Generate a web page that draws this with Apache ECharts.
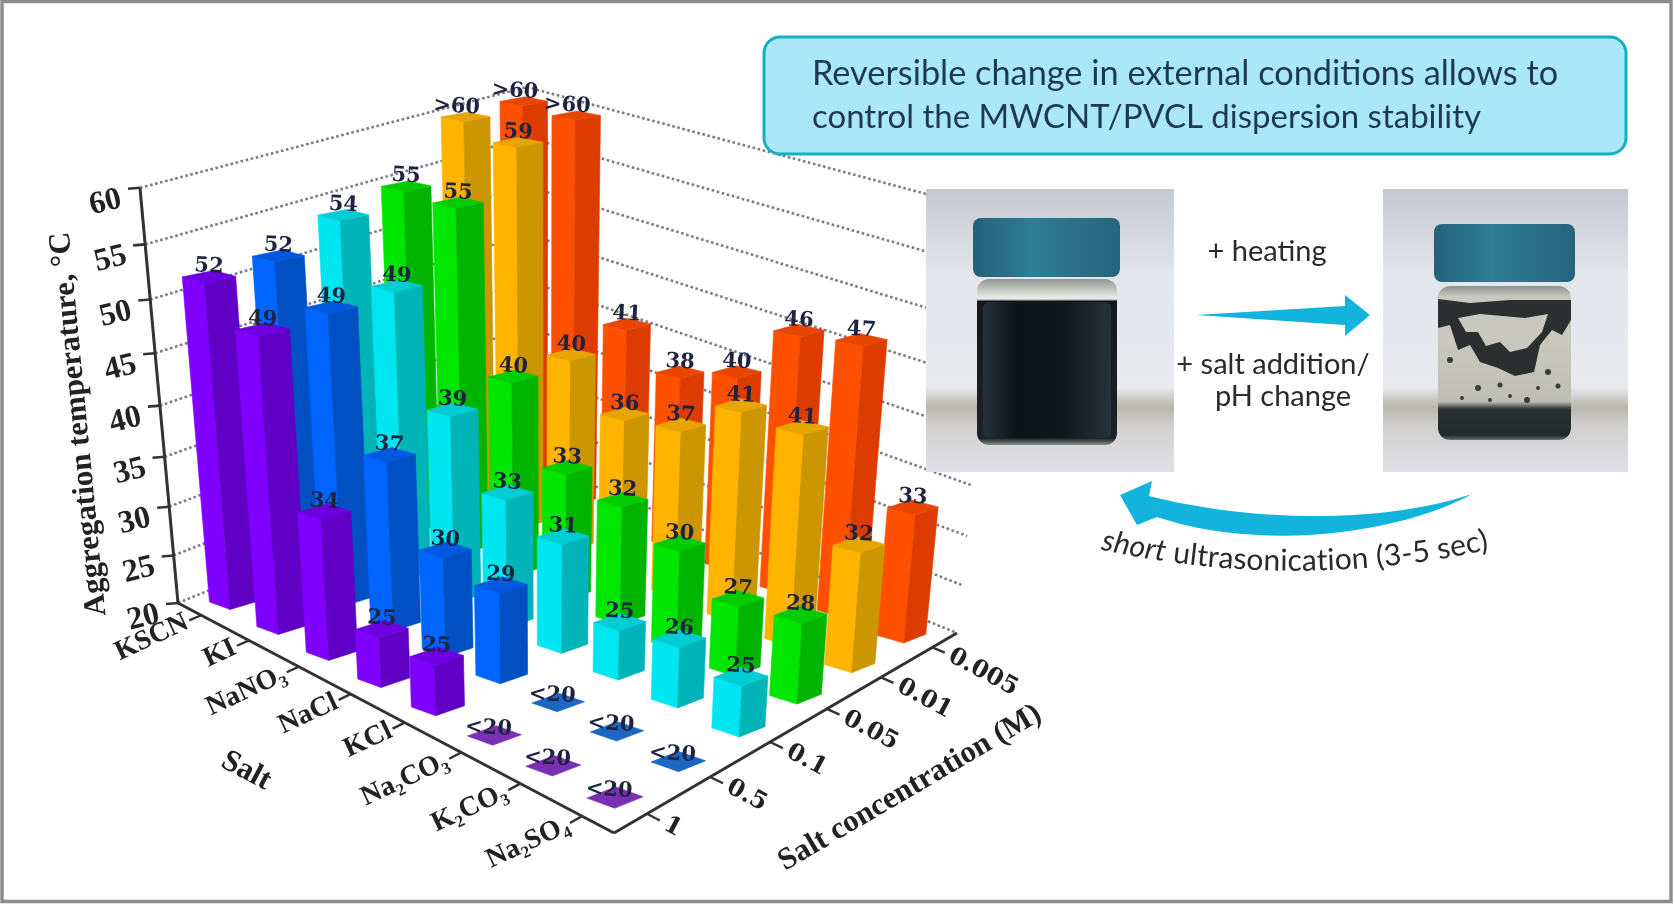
<!DOCTYPE html>
<html><head><meta charset="utf-8">
<style>html,body{margin:0;padding:0;background:#fff}#c{width:1675px;height:905px}</style>
<script src="https://cdn.jsdelivr.net/npm/echarts@6/dist/echarts.min.js"></script>
</head><body><div id="c"></div>
<script>
// ---------- data (values below 20 and the value 60 are the chart's "<20" and ">60" marks) ----------
const salts = ['KSCN','KI','NaNO₃','NaCl','KCl','Na₂CO₃','K₂CO₃','Na₂SO₄'];
const concs = ['1','0.5','0.1','0.05','0.01','0.005'];
const tempTicks = [20,25,30,35,40,45,50,55,60];
const conc1    = [52,49,34,25,25,19,19,19];
const conc05   = [52,49,37,30,29,19,19,19];
const conc01   = [54,49,39,33,31,25,26,25];
const conc005  = [55,55,40,33,32,30,27,28];
const conc001  = [60,59,40,36,37,41,41,32];
const conc0005 = [60,60,41,38,40,46,47,33];
const rows = [conc1,conc05,conc01,conc005,conc001,conc0005];

// ---------- style ----------
const faceLeft  = ['#7f00ff','#0064ff','#00e6f0','#00e600','#ffb400','#ff5000'];
const faceRight = ['#5f00c4','#0050c4','#00b4b8','#00b400','#cc9600','#dc3c00'];
const faceTop   = ['#6c00e0','#0058e0','#00ccd4','#00cc00','#e6a500','#e84600'];
const flatColor = ['#7a30b4','#1a68c4'];
const serif = '"DejaVu Serif"';
const serif2 = '"Liberation Serif"';
const labelInk = '#1f2340';

// ---------- perspective frame of the plot box (calibration of the box, not data) ----------
const box = {A:[178,603],B:[614,833],C:[957,633],D:[528,459],V:[544,4600],gamma:-0.0941};
const H = (()=>{const {A,B,C,D}=box;
  const dx1=B[0]-C[0],dx2=D[0]-C[0],sx=A[0]-B[0]+C[0]-D[0];
  const dy1=B[1]-C[1],dy2=D[1]-C[1],sy=A[1]-B[1]+C[1]-D[1];
  const det=dx1*dy2-dx2*dy1;
  const g=(sx*dy2-dx2*sy)/det,h=(dx1*sy-sx*dy1)/det;
  return {a:B[0]-A[0]+g*B[0],b:D[0]-A[0]+h*D[0],c:A[0],d:B[1]-A[1]+g*B[1],e:D[1]-A[1]+h*D[1],f:A[1],g,h};
})();
function proj(u,v,w){
  const k=box.gamma*w;
  const W=H.g*u+H.h*v+1+k;
  return [(H.a*u+H.b*v+H.c+k*box.V[0])/W,(H.d*u+H.e*v+H.f+k*box.V[1])/W];
}
const heightOf = t => (Math.max(t,tempTicks[0])-tempTicks[0])/(tempTicks[tempTicks.length-1]-tempTicks[0]);
const deg = d => d*Math.PI/180;
const floorUV = (api,cs,i,j)=>{const p=api.coord([i,j]);return [(p[0]-cs.x)/cs.width,1-(p[1]-cs.y)/cs.height];};

// ---------- bars ----------
const barFrac = 0.44, footSquash = 0.7;
function barItem(j){
  return function(params,api){
    const cs=params.coordSys, i=api.value(0), t=api.value(2);
    const [u,v]=floorUV(api,cs,i,api.value(1));
    const du=barFrac/salts.length/2, dv=barFrac/concs.length/2;
    const w=heightOf(t), children=[];
    const c=proj(u,v,w), c0=proj(u,v,0);
    const at=(uu,vv,ww,ctr)=>{const p=proj(uu,vv,ww);return [p[0],ctr[1]+(p[1]-ctr[1])*footSquash];};
    const tL=at(u-du,v-dv,w,c),tF=at(u+du,v-dv,w,c),tR=at(u+du,v+dv,w,c),tB=at(u-du,v+dv,w,c);
    const poly=(pts,fill)=>({type:'polygon',shape:{points:pts},style:{fill,stroke:fill,lineWidth:0.6}});
    const low=t<tempTicks[0], high=t>=tempTicks[tempTicks.length-1];
    if(low){
      children.push(poly([tL,tF,tR,tB],flatColor[j]));
    }else{
      const bL=at(u-du,v-dv,0,c0),bF=at(u+du,v-dv,0,c0),bR=at(u+du,v+dv,0,c0);
      children.push(poly([tL,tF,bF,bL],faceLeft[j]));
      children.push(poly([tF,tR,bR,bF],faceRight[j]));
      children.push(poly([tL,tF,tR,tB],faceTop[j]));
    }
    const text=low?'<20':high?'>60':String(t);
    children.push({type:'text',x:c[0]+(low?-6:high?-9:0),y:c[1]-(low?7:10),rotation:deg(-3),
      style:{text,fill:labelInk,font:'bold 21px '+serif,align:'center',verticalAlign:'middle'}});
    return {type:'group',children};
  };
}

// ---------- box: dotted walls, axes, ticks, tick labels ----------
function frameItem(params,api){
  const cs=params.coordSys, ch=[];
  const line=(p,q,stroke,lw,dash)=>ch.push({type:'line',shape:{x1:p[0],y1:p[1],x2:q[0],y2:q[1]},style:{stroke,lineWidth:lw,lineDash:dash||null}});
  tempTicks.forEach(t=>{
    const w=heightOf(t);
    line(proj(0,0,w),proj(0,1,w),'#7c7c88',2.6,[2.6,2.6]);
    line(proj(0,1,w),proj(1,1,w),'#7c7c88',2.6,[2.6,2.6]);
    const a=proj(0,0,w);
    ch.push({type:'line',shape:{x1:a[0],y1:a[1],x2:a[0]-12,y2:a[1]+1},style:{stroke:'#333',lineWidth:2.6}});
    ch.push({type:'text',x:a[0]-19,y:a[1]+11,rotation:deg(14),
      style:{text:String(t),fill:'#222',font:'bold 32px '+serif2,align:'right',verticalAlign:'middle'}});
  });
  line(proj(0,0,0),proj(0,0,1),'#333',3);
  line(proj(0,0,0),proj(1,0,0),'#333',3);
  line(proj(1,0,0),proj(1,1,0),'#333',3);
  salts.forEach((s,i)=>{
    const [u]=floorUV(api,cs,i,0);
    line(proj(u,0,0),proj(u,-0.03,0),'#333',2.4);
    const p=proj(u,-0.035,0);
    ch.push({type:'text',x:p[0],y:p[1],rotation:deg(25),
      style:{text:s,fill:'#222',font:'bold 28px '+serif2,align:'right',verticalAlign:'middle'}});
  });
  concs.forEach((s,j)=>{
    const [,v]=floorUV(api,cs,0,j);
    line(proj(1,v,0),proj(1.025,v,0),'#333',2.4);
    const p=proj(1.035,v,0);
    ch.push({type:'text',x:p[0],y:p[1],rotation:deg(-28),
      style:{text:s,fill:'#222',font:'bold 24px '+serif,align:'left',verticalAlign:'middle'}});
  });
  return {type:'group',children:ch};
}

// ---------- non-chart artwork: callout, jars, arrows ----------
const g=[];
const T=(text,x,y,font,fill,opt)=>g.push(Object.assign({type:'text',x,y,z:50,silent:true,
  style:{text,font,fill,align:(opt&&opt.align)||'center',verticalAlign:'middle'}},opt&&opt.rotation!=null?{rotation:opt.rotation}:{}));
const R=(x,y,w,h,fill,r,stroke,lw)=>g.push({type:'rect',z:40,silent:true,shape:{x,y,width:w,height:h,r:r||0},style:{fill:fill||'transparent',stroke:stroke||null,lineWidth:lw||0}});
const P=(pts,fill)=>g.push({type:'polygon',z:42,silent:true,shape:{points:pts},style:{fill}});
const vg=(stops)=>({type:'linear',x:0,y:0,x2:0,y2:1,colorStops:stops.map(s=>({offset:s[0],color:s[1]}))});
const hg=(stops)=>({type:'linear',x:0,y:0,x2:1,y2:0,colorStops:stops.map(s=>({offset:s[0],color:s[1]}))});
const cubic=(a,b,c,d,n)=>{const o=[];for(let i=0;i<=n;i++){const t=i/n,m=1-t;
  o.push([m*m*m*a[0]+3*m*m*t*b[0]+3*m*t*t*c[0]+t*t*t*d[0],m*m*m*a[1]+3*m*m*t*b[1]+3*m*t*t*c[1]+t*t*t*d[1]]);}return o;};

R(2,1.5,1669,900,null,0,'#8c8c8c',3.4);
// callout
R(764,37,862,117,'#a9e7f9',16,'#15aec4',3);
const sans='"Lato"';
T('Reversible change in external conditions allows to',812,74,'34.3px '+sans,'#1d3a4e',{align:'left'});
T('control the MWCNT/PVCL dispersion stability',812,117,'33px '+sans,'#1d3a4e',{align:'left'});
// photos
const photoBg=[[0,'#c6c8d0'],[0.3,'#e2e6ea'],[0.7,'#e8eaee'],[0.77,'#b9b6ae'],[0.84,'#d2d1d0'],[1,'#e0e0e6']];
R(926,189,248,283,vg(photoBg));
R(1383,189,245,283,vg(photoBg));
// left jar
R(977,279,140,166,vg([[0,'#8f9694'],[0.08,'#cfd3ce'],[0.12,'#eef0ea'],[0.135,'#11181c'],[0.96,'#1b2428'],[1,'#8c8f8c']]),12);
R(983,302,128,136,hg([[0,'#26323a'],[0.25,'#0d1418'],[0.6,'#0f161a'],[1,'#263238']]),6);
R(973,218,147,59,hg([[0,'#23607a'],[0.4,'#2f7d96'],[1,'#27637c']]),8);
// right jar
R(1438,286,133,154,vg([[0,'#8d918e'],[0.07,'#c8c8c2'],[0.35,'#c9c8bd'],[0.75,'#bfbeb2'],[0.8,'#2b3032'],[0.97,'#23292c'],[1,'#6e7070']]),12);
R(1434,224,141,58,hg([[0,'#24607a'],[0.4,'#2f7d96'],[1,'#27637c']]),8);
P([[1438,299],[1470,303],[1510,300],[1571,300],[1571,320],[1562,335],[1552,330],[1540,345],[1534,372],[1515,376],[1498,368],[1480,362],[1470,345],[1458,350],[1450,325],[1438,328]],'#2b2f30');
P([[1458,318],[1480,314],[1525,318],[1548,314],[1542,332],[1527,348],[1510,352],[1500,342],[1486,346],[1478,332],[1466,332]],'#c9c8bf');
const flecks=[[1450,360,3],[1478,388,3],[1500,385,2.5],[1527,400,3],[1548,372,3],[1558,386,2.5],[1490,400,2],[1462,398,2],[1538,388,2],[1510,396,2]];
flecks.forEach(f=>g.push({type:'circle',z:43,silent:true,shape:{cx:f[0],cy:f[1],r:f[2]},style:{fill:'#3a3d3d'}}));
// arrows
const arrowBlue='#12b3dc';
P([[1196,315],[1345,306],[1345,295],[1370,315],[1345,336],[1345,325]],arrowBlue);
P([...cubic([1472,494],[1400,534],[1260,552],[1157,517],24),[1137,525],[1120,495],[1152,481],[1149,496],...cubic([1149,496],[1260,524],[1390,522],[1472,494],24)],arrowBlue);
// text by the arrows
T('+ heating',1267,252,'29px '+sans,'#2a2a2a');
T('+ salt addition/',1273,365,'29px '+sans,'#2a2a2a');
T('pH change',1283,397,'29px '+sans,'#2a2a2a');
// curved caption, one glyph at a time along a circle
(function(){
  const R0=893,cx=1295,cy=561-R0,font='30px '+sans,italic='italic 30px '+sans;
  const s='short ultrasonication (3-5 sec)';
  const m=document.createElement('canvas').getContext('2d');
  const wd=[...s].map((c,i)=>{m.font=i<5?italic:font;return m.measureText(c).width;});
  const total=wd.reduce((a,b)=>a+b,0);
  let d=-total/2;
  [...s].forEach((c,i)=>{
    const a=(d+wd[i]/2)/R0;
    T(c,cx+R0*Math.sin(a),cy+R0*Math.cos(a),i<5?italic:font,'#2a2a2a',{rotation:a});
    d+=wd[i];
  });
})();
// axis titles
const titleFont='bold 31px '+serif2;
T('Aggregation temperature, °C',79,424,titleFont,'#222',{rotation:deg(95.5)});
T('Salt',246,771,titleFont,'#222',{rotation:deg(-28)});
T('Salt concentration (M)',910,788,titleFont,'#222',{rotation:deg(30.5)});

// ---------- chart ----------
const series=[{type:'custom',name:'frame',silent:true,animation:false,coordinateSystem:'cartesian2d',
  encode:{x:0,y:1},data:[[0,0]],renderItem:frameItem,z:1}];
for(let j=concs.length-1;j>=0;j--){
  series.push({type:'custom',name:concs[j]+' M',silent:true,animation:false,coordinateSystem:'cartesian2d',
    encode:{x:0,y:1},z:2+concs.length-j,
    data:rows[j].map((t,i)=>[i,j,t]),renderItem:barItem(j)});
}
const chart=echarts.init(document.getElementById('c'),null,{renderer:'canvas'});
chart.setOption({animation:false,backgroundColor:'#fff',
  grid:{left:0,right:0,top:0,bottom:0},
  xAxis:{type:'category',data:salts,show:false},
  yAxis:{type:'category',data:concs,show:false},
  series,graphic:{elements:g}});
</script></body></html>
